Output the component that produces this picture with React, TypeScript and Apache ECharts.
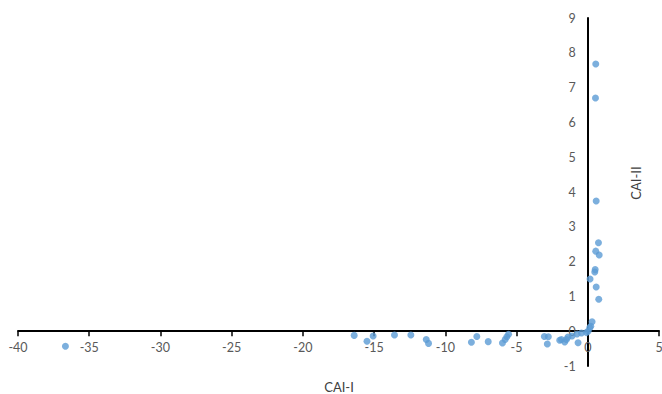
import React, { useEffect, useRef } from "react";
import * as echarts from "echarts";

// CAI-I (x) and CAI-II (y) scores for each sample
const caiI = [
  -36.67, -16.4, -15.5, -15.07, -13.57, -12.42, -11.34, -11.18, -8.17, -7.79,
  -6.99, -5.99, -5.8, -5.68, -5.56, -3.05, -2.77, -2.84, -1.97, -1.85,
  -1.62, -1.5, -1.39, -1.1, -0.75, -0.68, -0.44, -0.09, 0.02, 0.14,
  0.21, 0.3, 0.77, 0.59, 0.16, 0.49, 0.52, 0.8, 0.56, 0.75,
  0.59, 0.54, 0.56,
];
const caiII = [
  -0.43, -0.12, -0.29, -0.14, -0.11, -0.11, -0.24, -0.35, -0.32, -0.15,
  -0.3, -0.34, -0.24, -0.16, -0.09, -0.15, -0.16, -0.37, -0.26, -0.24,
  -0.31, -0.24, -0.17, -0.14, -0.08, -0.33, -0.05, -0.04, 0.0, 0.1,
  0.14, 0.27, 0.92, 1.27, 1.5, 1.7, 1.77, 2.19, 2.3, 2.54,
  3.74, 6.7, 7.68,
];

const xTitle = "CAI-I";
const yTitle = "CAI-II";

const FONT = "Lato, 'Open Sans', sans-serif";

export default function App() {
  const ref = useRef<HTMLDivElement>(null);

  useEffect(() => {
    if (!ref.current) return;
    const chart = echarts.init(ref.current, undefined, { renderer: "svg" });
    const points = caiI.map((x, i) => [x, caiII[i]]);
    const grid = {
      left: 18,
      right: 3,
      top: 18,
      bottom: 28,
      containLabel: false,
      outerBoundsMode: "none",
    };
    chart.setOption({
      animation: false,
      backgroundColor: "#ffffff",
      grid,
      xAxis: {
        type: "value",
        position: "bottom",
        min: -40,
        max: 5,
        interval: 5,
        splitLine: { show: false },
        axisLine: { onZero: false, lineStyle: { color: "#000000", width: 2 } },
        axisTick: { show: true, length: 5, lineStyle: { color: "#000000", width: 1.5 } },
        axisLabel: { color: "#595959", fontSize: 12.5, fontFamily: FONT, margin: 10 },
      },
      yAxis: {
        type: "value",
        position: "left",
        min: -1,
        max: 9,
        interval: 1,
        splitLine: { show: false },
        axisLine: { onZero: false, lineStyle: { color: "#000000", width: 2 } },
        axisTick: { show: false },
        axisLabel: { color: "#595959", fontSize: 12.5, fontFamily: FONT, margin: 12 },
      },
      series: [
        {
          type: "scatter",
          data: points,
          symbol: "circle",
          symbolSize: 7,
          itemStyle: { color: "#5B9BD5" },
        },
      ],
      graphic: [
        {
          type: "text",
          x: 339,
          y: 387,
          style: {
            text: xTitle,
            fill: "#404040",
            fontSize: 13,
            fontFamily: FONT,
            align: "center",
            verticalAlign: "middle",
          },
        },
        {
          type: "text",
          x: 636,
          y: 183,
          rotation: Math.PI / 2,
          style: {
            text: yTitle,
            fill: "#404040",
            fontSize: 13,
            fontFamily: FONT,
            align: "center",
            verticalAlign: "middle",
          },
        },
      ],
    });

    // Move both axes (line, ticks and labels) so they cross at the origin.
    const origin = chart.convertToPixel({ gridIndex: 0 }, [0, 0]) as number[];
    const h = chart.getHeight();
    const plotLeft = grid.left;
    const plotBottom = h - grid.bottom;
    if (origin && h) {
      chart.setOption({
        xAxis: { offset: -(plotBottom - origin[1]) },
        yAxis: { offset: -(origin[0] - plotLeft) },
      });
    }
    return () => chart.dispose();
  }, []);

  return (
    <div
      ref={ref}
      style={{ position: "fixed", left: 0, top: 0, width: 662, height: 394 }}
    />
  );
}
